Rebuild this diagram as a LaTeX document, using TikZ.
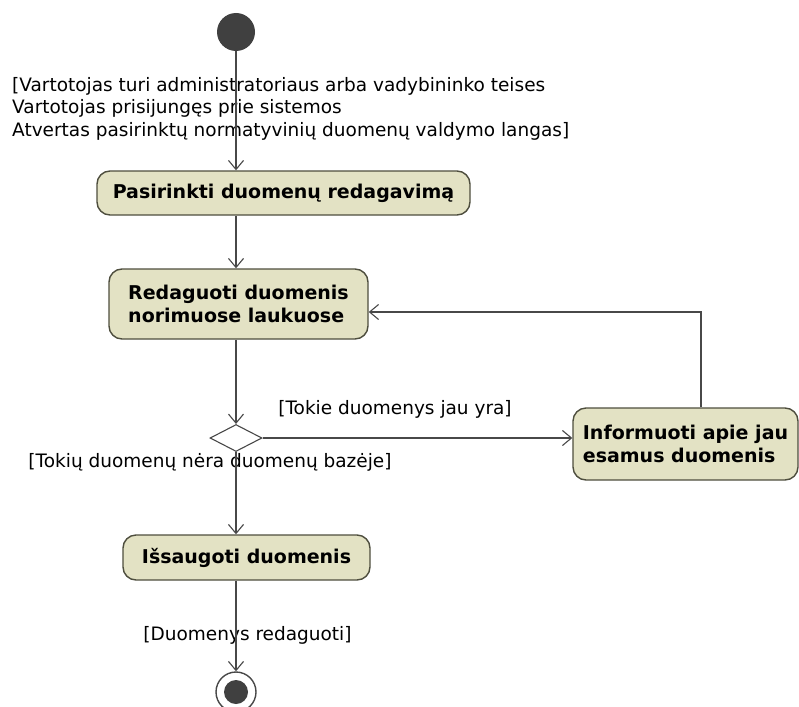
\documentclass[tikz,border=0pt]{standalone}
\usepackage{fontspec}
\setmainfont{DejaVu Sans}
\usepackage{xcolor}
\usetikzlibrary{shapes.geometric}
\usetikzlibrary{arrows.meta}
\usetikzlibrary{positioning}
\definecolor{actFill}{RGB}{227,226,196}
\definecolor{actLine}{RGB}{78,78,62}
\definecolor{flowLine}{RGB}{72,72,72}

\begin{document}
\begin{tikzpicture}[x=1pt, y=-1pt,
	action/.style={rectangle, rounded corners=13pt, draw=actLine, line width=1.4pt, fill=actFill, font=\bfseries\fontsize{19}{23}\selectfont, align=left, inner sep=0pt},
	guard/.style={font=\fontsize{18.5}{22.5}\selectfont, inner sep=0pt, align=left},
	flow/.style={draw=flowLine, line width=1.1pt, -{Straight Barb[length=9pt,width=15pt]}}]
	\useasboundingbox (0,0) rectangle (799,706);
	\node[circle, fill=darkgray, minimum size=38pt, inner sep=0pt] (start) at (236,32) {};
	\node[guard, anchor=west] (preCond) at (12,108.5) {[Vartotojas turi administratoriaus arba vadybininko teises\\Vartotojas prisijungęs prie sistemos\\Atvertas pasirinktų normatyvinių duomenų valdymo langas]};
	\node[action, minimum width=373pt, minimum height=44pt] (choose) at (283.5,193) {Pasirinkti duomenų redagavimą};
	\node[action, minimum width=259pt, minimum height=70pt] (edit) at (238.5,304) {Redaguoti duomenis\\norimuose laukuose};
	\node[diamond, draw=flowLine, line width=1.1pt, minimum width=52pt, minimum height=27pt, inner sep=0pt] (check) at (236,438) {};
	\node[action, minimum width=225pt, minimum height=72pt] (inform) at (685.5,444) {Informuoti apie jau\\esamus duomenis};
	\node[action, minimum width=247pt, minimum height=45pt] (save) at (246.5,557.5) {Išsaugoti duomenis};
	\node[circle, draw=flowLine, line width=1.4pt, minimum size=40pt, inner sep=0pt] (finish) at (236,692) {};
	\node[circle, fill=darkgray, minimum size=24pt, inner sep=0pt] (finishDot) at (finish) {};
	\coordinate (loopBend) at (701,312);
	% guards
	\node[guard] (existsGuard) at (395,409) {[Tokie duomenys jau yra]};
	\node[guard] (newGuard) at (210,462) {[Tokių duomenų nėra duomenų bazėje]};
	\node[guard] (doneGuard) at (247.5,635) {[Duomenys redaguoti]};
	% flows
	\draw[flow] (start) -- (start |- choose.north);
	\draw[flow] (choose.south -| start) -- (edit.north -| start);
	\draw[flow] (edit.south -| check) -- (check.north);
	\draw[flow] (check.east) -- (check.east -| inform.west);
	\draw[flow] (inform.north -| loopBend) -- (loopBend) -- (loopBend -| edit.east);
	\draw[flow] (check.south) -- (save.north -| check);
	\draw[flow] (save.south -| check) -- (finish.north);
\end{tikzpicture}
\end{document}
